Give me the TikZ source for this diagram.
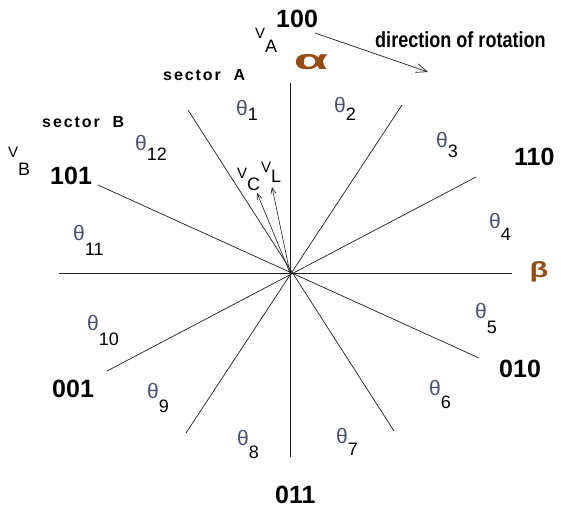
\documentclass[tikz,border=0pt]{standalone}
\usepackage{fontspec}
\setmainfont{Liberation Sans}
\newfontfamily\sectfont[LetterSpace=12]{Liberation Sans}
\usetikzlibrary{arrows.meta}
\definecolor{thcol}{RGB}{70,80,115}
\definecolor{axcol}{RGB}{150,75,20}
\definecolor{linecol}{RGB}{30,30,30}
\newcommand\thlab[2]{{\fontsize{21}{21}\selectfont\color{thcol}θ}\raisebox{-#2pt}{\fontsize{18}{18}\selectfont #1}}
\newcommand\vlab[2]{{\fontsize{15}{15}\selectfont V}\raisebox{-#2pt}{\fontsize{18}{18}\selectfont #1}}
\begin{document}
\begin{tikzpicture}[x=1pt,y=-1pt,
  axline/.style={line width=0.7pt, draw=linecol},
  lbl/.style={inner sep=0pt, anchor=base west},
  digit/.style={lbl, font=\fontsize{25}{25}\selectfont\bfseries},
  sect/.style={lbl, font=\fontsize{16}{16}\selectfont\sectfont\bfseries},
  vec/.style={line width=0.6pt, draw=linecol, -{Straight Barb[length=6pt,width=5pt]}},
  rot/.style={line width=0.7pt, draw=linecol, -{Straight Barb[length=11pt,width=9pt]}}]
\useasboundingbox (0,0) rectangle (561,508);
% coordinates
\coordinate (O) at (290,273);
\coordinate (vt) at (290,83);   \coordinate (vb) at (290,457);
\coordinate (hl) at (59,273);   \coordinate (hr) at (512,273);
\coordinate (a1) at (188,110);  \coordinate (a2) at (394,431);
\coordinate (b1) at (98,185);   \coordinate (b2) at (479,358);
\coordinate (c1) at (402,105);  \coordinate (c2) at (186,433);
\coordinate (d1) at (476,177);  \coordinate (d2) at (107,371);
\coordinate (vc) at (257,193);  \coordinate (vl) at (272,187);
\coordinate (r1) at (315,33);   \coordinate (r2) at (428,72);
% axes and sector lines
\draw[axline] (vt) -- (vb);
\draw[axline] (hl) -- (hr);
\draw[axline] (a1) -- (a2);
\draw[axline] (b1) -- (b2);
\draw[axline] (c1) -- (c2);
\draw[axline] (d1) -- (d2);
% vectors
\draw[vec] (O) -- (vc);
\draw[vec] (O) -- (vl);
\draw[rot] (r1) -- (r2);
% axis labels
\node[inner sep=0pt, text=axcol] (alpha) at (311,62) {\scalebox{2}[1]{\fontsize{28}{28}\selectfont\bfseries α}};
\node[inner sep=0pt, text=axcol] (beta) at (539,272) {\scalebox{1.4}[1]{\fontsize{22}{22}\selectfont\bfseries β}};
% state labels
\node[digit] (s100) at (276,28) {100};
\node[digit] (s110) at (514,165) {110};
\node[digit] (s010) at (499,377) {010};
\node[digit] (s011) at (275,503) {011};
\node[digit] (s001) at (52,397) {001};
\node[digit] (s101) at (50,184) {101};
% text
\node[lbl, font=\fontsize{19}{19}\selectfont\bfseries] (dir) at (375,48) {\scalebox{0.95}[1.15]{direction of rotation}};
\node[sect] (secA) at (163,81) {sector\ \ A};
\node[sect] (secB) at (42,127) {sector\ \ B};
% vector labels
\node[lbl] (VA) at (255,39) {\vlab{A}{14}};
\node[lbl] (VB) at (8,157) {\vlab{B}{18}};
\node[lbl] (VC) at (237,178) {\vlab{C}{12}};
\node[lbl] (VL) at (261,172) {\vlab{L}{10}};
% theta labels
\node[lbl] (t1) at (236,115) {\thlab{1}{5}};
\node[lbl] (t2) at (334,113) {\thlab{2}{7}};
\node[lbl] (t3) at (436,147) {\thlab{3}{10}};
\node[lbl] (t4) at (489,228) {\thlab{4}{12}};
\node[lbl] (t5) at (475,318) {\thlab{5}{15}};
\node[lbl] (t6) at (429,395) {\thlab{6}{13}};
\node[lbl] (t7) at (336,443) {\thlab{7}{12}};
\node[lbl] (t8) at (237,445) {\thlab{8}{13}};
\node[lbl] (t9) at (147,398) {\thlab{9}{14}};
\node[lbl] (t10) at (87,330) {\thlab{10}{15}};
\node[lbl] (t11) at (73,240) {\thlab{11}{15}};
\node[lbl] (t12) at (135,150) {\thlab{12}{10}};
\end{tikzpicture}
\end{document}
